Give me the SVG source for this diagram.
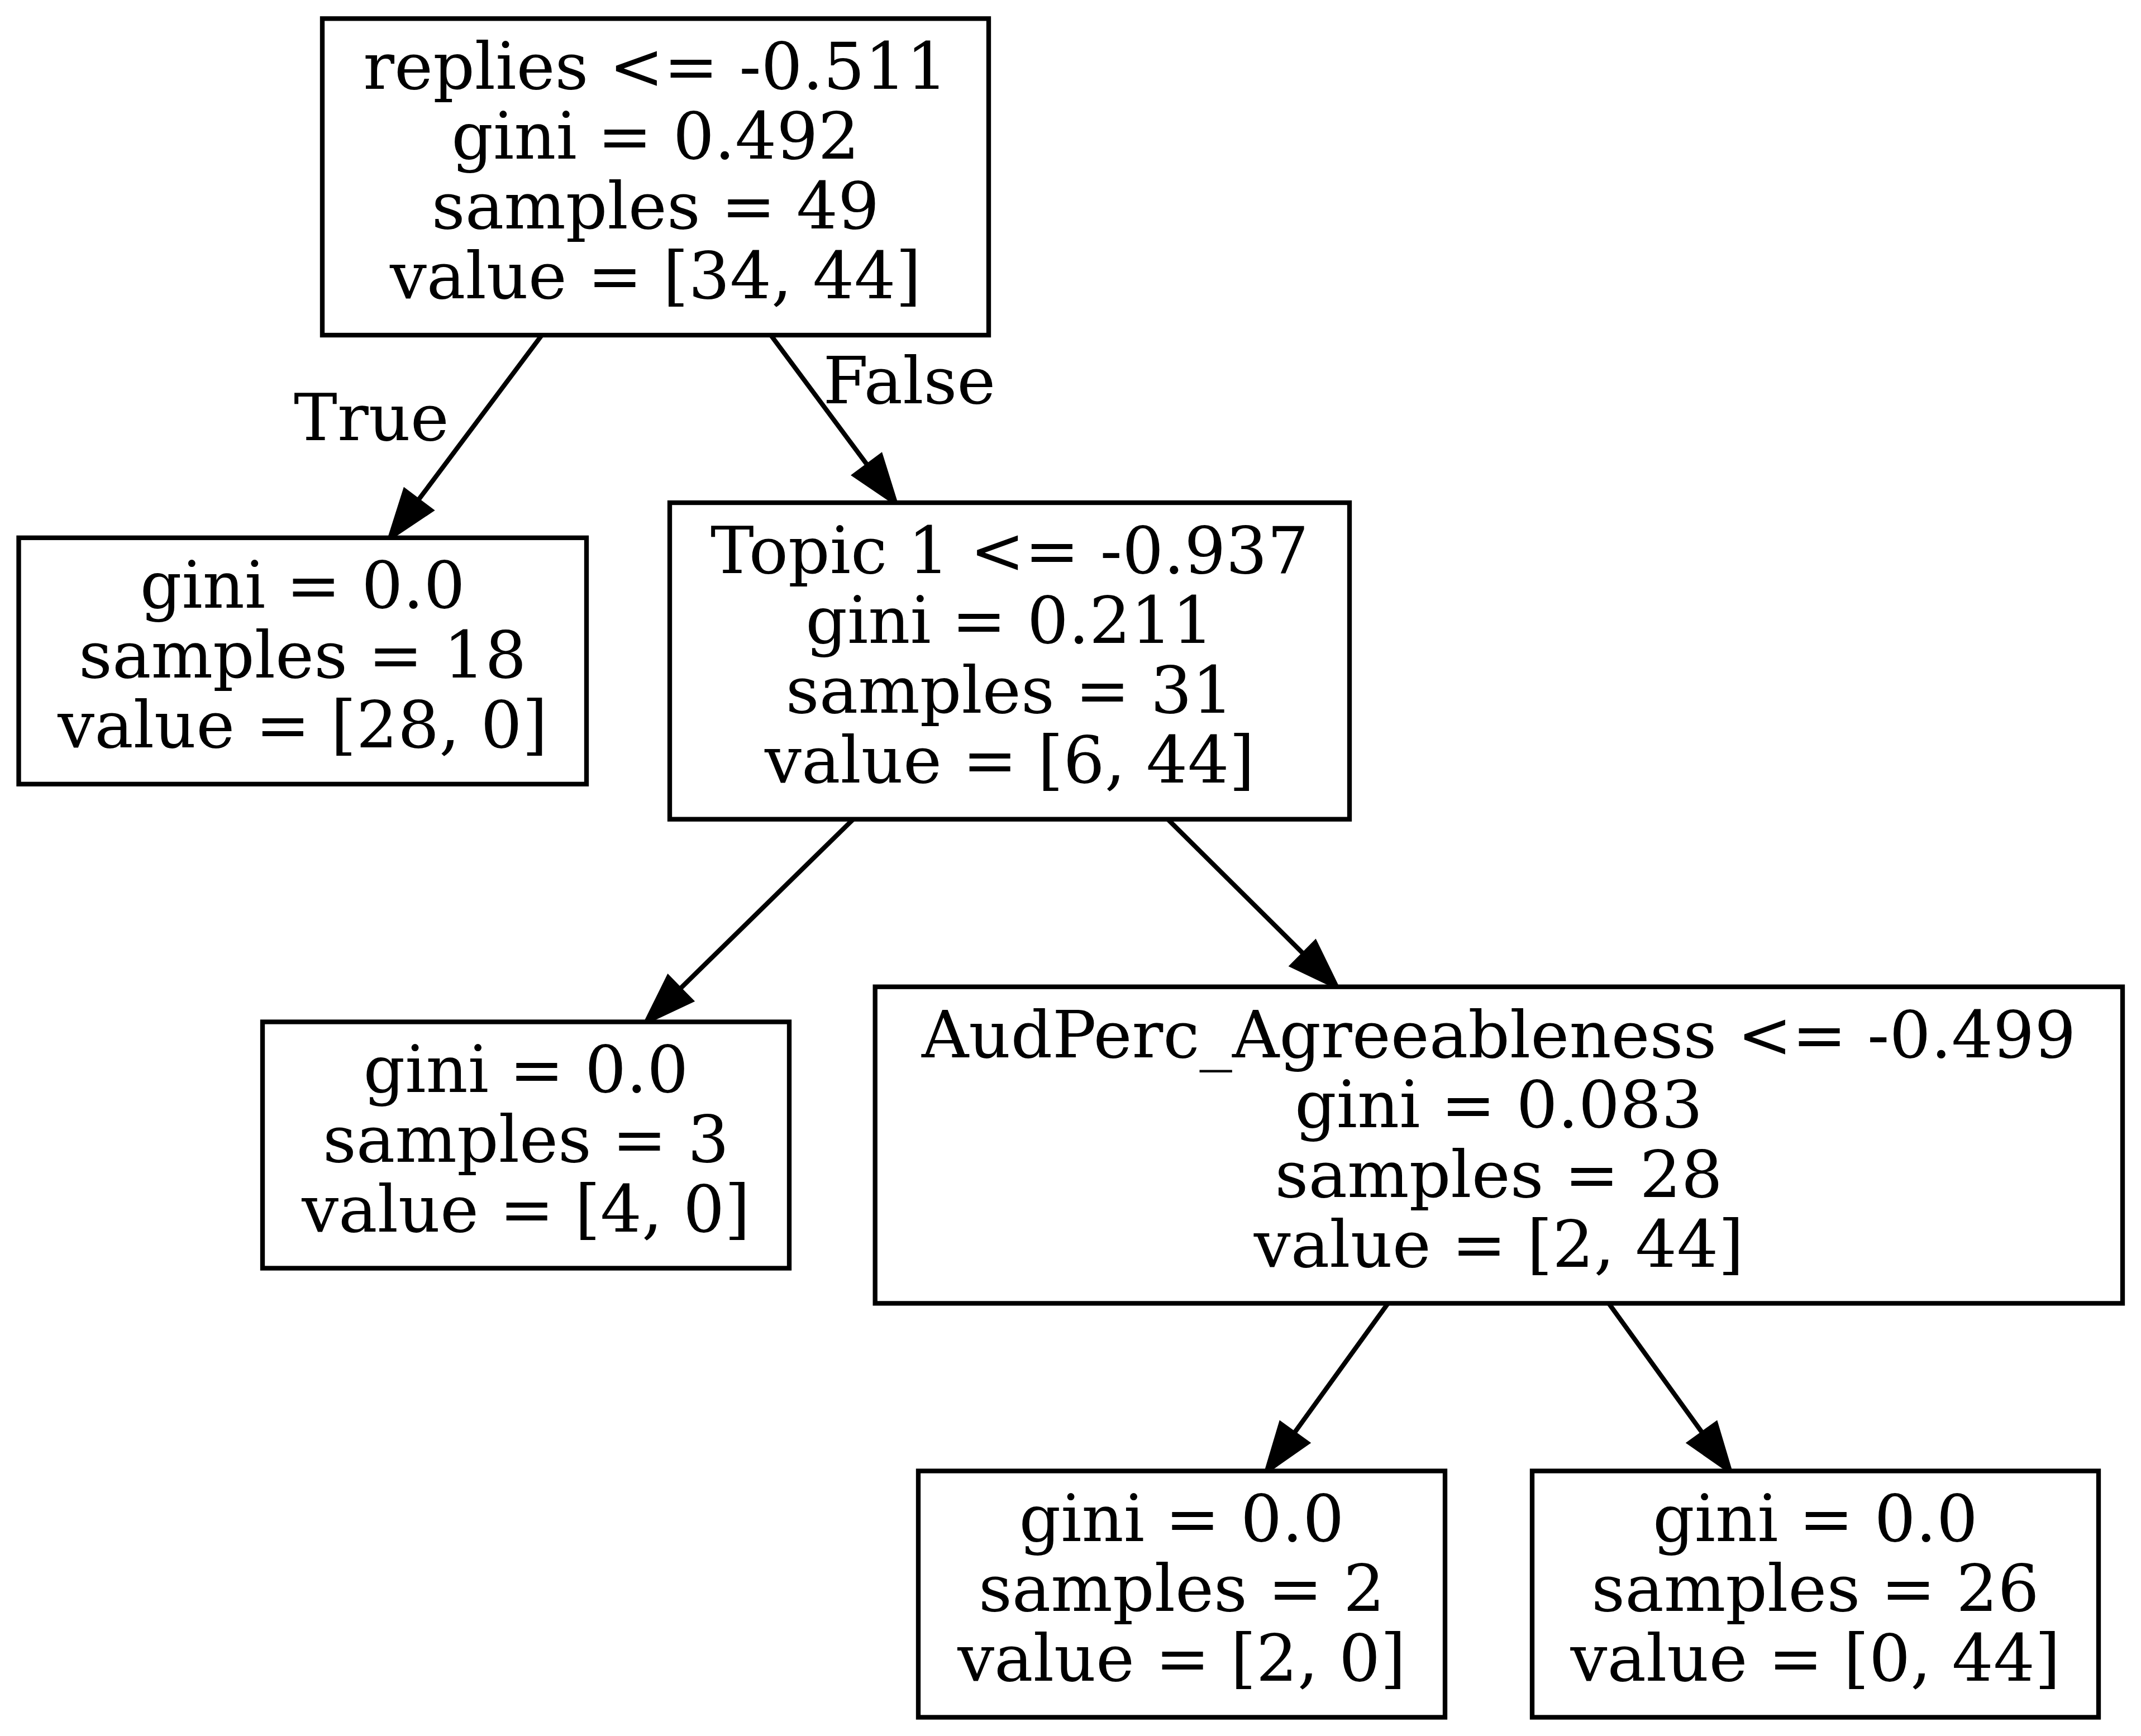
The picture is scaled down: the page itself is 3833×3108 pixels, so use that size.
<svg xmlns="http://www.w3.org/2000/svg" width="3833" height="3108" viewBox="0 0 3833 3108">
<style>
.box{fill:#fff;stroke:#000;stroke-width:8.33}
.edge{fill:none;stroke:#000;stroke-width:8.33}
.arrow{fill:#000;stroke:#000;stroke-width:8.33}
text{font-family:"DejaVu Serif","Liberation Serif",serif;font-size:116.7px;text-anchor:middle;fill:#000}
</style>
<rect x="0" y="0" width="3833" height="3108" fill="#fff"/>
<g id="connectors">
<g id="e0-1">
<line class="edge" x1="970" y1="600" x2="748.3" y2="896.1"/>
<polygon class="arrow" points="771.5,913.5 698.5,962.5 725.1,878.7"/>
<text x="665" y="788">True</text>
</g>
<g id="e0-2">
<line class="edge" x1="1380" y1="600" x2="1553.5" y2="833.4"/>
<polygon class="arrow" points="1576.8,816.1 1603,900 1530.2,850.7"/>
<text x="1628" y="722">False</text>
</g>
<g id="e2-3">
<line class="edge" x1="1527.5" y1="1466.7" x2="1216.8" y2="1770.9"/>
<polygon class="arrow" points="1237.1,1791.6 1157.5,1829 1196.5,1750.2"/>
</g>
<g id="e2-4">
<line class="edge" x1="2090.7" y1="1466.7" x2="2334.1" y2="1708.2"/>
<polygon class="arrow" points="2354.5,1687.6 2393,1766.7 2313.7,1728.8"/>
</g>
<g id="e4-5">
<line class="edge" x1="2485" y1="2333.3" x2="2316.6" y2="2566.2"/>
<polygon class="arrow" points="2340.1,2583.2 2268,2633.5 2293.1,2549.2"/>
</g>
<g id="e4-6">
<line class="edge" x1="2880" y1="2333.3" x2="3048.4" y2="2566.2"/>
<polygon class="arrow" points="3071.9,2549.2 3097,2633.5 3024.9,2583.2"/>
</g>
</g>
<g id="node0">
<rect class="box" x="577" y="33.3" width="1193" height="566.7"/>
<text x="1173.5" y="159.3">replies &lt;= -0.511</text>
<text x="1173.5" y="284.3">gini = 0.492</text>
<text x="1173.5" y="409.3">samples = 49</text>
<text x="1173.5" y="534.3">value = [34, 44]</text>
</g>
<g id="node1">
<rect class="box" x="33.5" y="962.8" width="1016.5" height="441"/>
<text x="541.75" y="1088.3">gini = 0.0</text>
<text x="541.75" y="1213.3">samples = 18</text>
<text x="541.75" y="1338.3">value = [28, 0]</text>
</g>
<g id="node2">
<rect class="box" x="1199" y="900" width="1217" height="566.7"/>
<text x="1807.5" y="1026">Topic 1 &lt;= -0.937</text>
<text x="1807.5" y="1151">gini = 0.211</text>
<text x="1807.5" y="1276">samples = 31</text>
<text x="1807.5" y="1401">value = [6, 44]</text>
</g>
<g id="node3">
<rect class="box" x="470" y="1829.5" width="943" height="441"/>
<text x="941.5" y="1955">gini = 0.0</text>
<text x="941.5" y="2080">samples = 3</text>
<text x="941.5" y="2205">value = [4, 0]</text>
</g>
<g id="node4">
<rect class="box" x="1566.7" y="1766.7" width="2233.3" height="566.7"/>
<text x="2683.3" y="1893">AudPerc_Agreeableness &lt;= -0.499</text>
<text x="2683.3" y="2018">gini = 0.083</text>
<text x="2683.3" y="2143">samples = 28</text>
<text x="2683.3" y="2268">value = [2, 44]</text>
</g>
<g id="node5">
<rect class="box" x="1644" y="2633.5" width="943" height="441"/>
<text x="2115.5" y="2759">gini = 0.0</text>
<text x="2115.5" y="2884">samples = 2</text>
<text x="2115.5" y="3009">value = [2, 0]</text>
</g>
<g id="node6">
<rect class="box" x="2743" y="2633.5" width="1014" height="441"/>
<text x="3250" y="2759">gini = 0.0</text>
<text x="3250" y="2884">samples = 26</text>
<text x="3250" y="3009">value = [0, 44]</text>
</g>
</svg>
